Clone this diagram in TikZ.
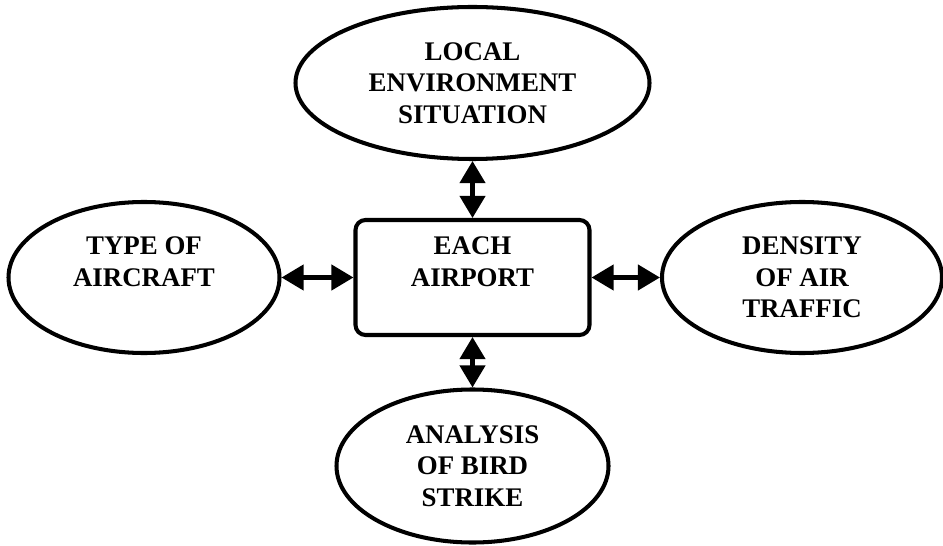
\documentclass[tikz,border=0pt]{standalone}
\usepackage{fontspec}
\setmainfont{Liberation Serif}
\usetikzlibrary{shapes.geometric,arrows.meta}
\begin{document}
\begin{tikzpicture}[
  oval/.style={draw, ellipse, line width=2.3pt, align=center, inner sep=0pt,
    font=\fontsize{15.3}{18}\selectfont\bfseries},
  hub/.style={draw, rectangle, rounded corners=0.2cm, line width=2.3pt, align=center,
    inner sep=0pt, minimum width=4.68cm, minimum height=2.3cm,
    font=\fontsize{15.3}{18}\selectfont\bfseries},
  twoway/.style={draw, line width=2.3pt,
    {Triangle[length=0.44cm,width=0.5cm]}-{Triangle[length=0.44cm,width=0.5cm]}}
]
\useasboundingbox (0,0) rectangle (18.86,-10.92);
\node[hub] (airport) at (9.45,-5.55) {EACH\\AIRPORT\\~};

\node[oval, minimum width=7.08cm, minimum height=3.04cm] (local) at (9.45,-1.66) {LOCAL\\ENVIRONMENT\\SITUATION};
\node[oval, minimum width=5.42cm, minimum height=3.02cm] (aircraft) at (2.88,-5.55) {TYPE OF\\AIRCRAFT\\~};
\node[oval, minimum width=5.6cm, minimum height=3.02cm] (traffic) at (16.04,-5.55) {DENSITY\\OF AIR\\TRAFFIC};
\node[oval, minimum width=5.44cm, minimum height=3.06cm] (bird) at (9.45,-9.32) {ANALYSIS\\OF BIRD\\STRIKE};

\path[twoway] (local) -- (airport);
\path[twoway] (aircraft) -- (airport);
\path[twoway] (airport) -- (traffic);
\path[twoway] (airport) -- (bird);
\end{tikzpicture}
\end{document}
